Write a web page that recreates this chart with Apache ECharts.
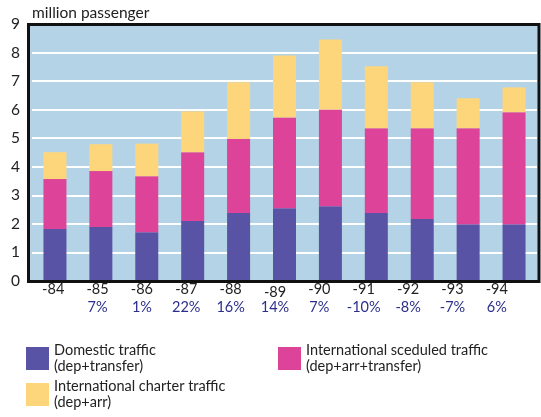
<!DOCTYPE html>
<html>
<head>
<meta charset="utf-8">
<script src="https://cdn.jsdelivr.net/npm/echarts@6/dist/echarts.min.js"></script>
<style>
  html, body { margin: 0; padding: 0; background: #fff; }
  #chart { width: 541px; height: 417px; }
</style>
</head>
<body>
<div id="chart"></div>
<script>
// 年份 / 增长率
var years = ['-84', '-85', '-86', '-87', '-88', '-89', '-90', '-91', '-92', '-93', '-94'];
var growth = ['', '7%', '1%', '22%', '16%', '14%', '7%', '-10%', '-8%', '-7%', '6%'];

// 各类客运量 (百万人次)
var domestic = [1.82, 1.89, 1.71, 2.10, 2.38, 2.55, 2.62, 2.38, 2.17, 1.99, 1.99];
var scheduled = [1.75, 1.96, 1.96, 2.41, 2.59, 3.18, 3.39, 2.97, 3.18, 3.36, 3.92];
var charter = [0.94, 0.94, 1.14, 1.43, 1.99, 2.17, 2.45, 2.17, 1.61, 1.05, 0.87];

var yTicks = ['0', '1', '2', '3', '4', '5', '6', '7', '8', '9'];

var names = {
    dom: 'Domestic traffic',
    sch: 'International sceduled traffic',
    cha: 'International charter traffic'
};
var subNames = {};
subNames[names.dom] = '(dep+transfer)';
subNames[names.sch] = '(dep+arr+transfer)';
subNames[names.cha] = '(dep+arr)';

var font = 'Lato';

var myChart = echarts.init(document.getElementById('chart'));

function legendFor(name, left, top) {
    return {
        data: [name],
        left: left,
        top: top,
        orient: 'vertical',
        icon: 'rect',
        itemWidth: 23,
        itemHeight: 23,
        itemGap: 0,
        padding: 0,
        selectedMode: false,
        formatter: function (n) { return n + '\n' + subNames[n]; },
        textStyle: {
            fontFamily: font,
            fontSize: 14.5,
            color: '#222',
            lineHeight: 16,
            padding: [11, 0, 0, 0]
        }
    };
}

var option = {
    animation: false,
    title: {
        text: 'million passenger',
        left: 27,
        top: 0,
        textStyle: { fontFamily: font, fontSize: 15.5, fontWeight: 'normal', color: '#222' }
    },
    // 背景框
    graphic: [
        {
            type: 'rect',
            z: -10,
            shape: { x: 28, y: 24, width: 511, height: 257 },
            style: { fill: '#b4d3e6' }
        },
        {
            type: 'rect',
            z: 10,
            shape: { x: 28.5, y: 24.5, width: 510.5, height: 257 },
            style: { fill: null, stroke: '#111', lineWidth: 3 }
        }
    ],
    legend: [
        legendFor(names.dom, 26, 337),
        legendFor(names.sch, 278, 337),
        legendFor(names.cha, 26, 373)
    ],
    grid: [
        { left: 32, right: 4, top: 24, bottom: 136 },
        { left: 31, width: 488, top: 24, bottom: 136 }
    ],
    xAxis: [
        {
            type: 'category',
            gridIndex: 0,
            data: years,
            axisLine: { show: false },
            axisTick: { show: false },
            axisLabel: { show: false }
        },
        {
            type: 'category',
            gridIndex: 1,
            data: years,
            axisLine: { show: false },
            axisTick: { show: false },
            axisLabel: {
                interval: 0,
                margin: 4,
                formatter: function (v, i) {
                    var tag = v === '-89' ? 'd' : 'y';
                    return '{' + tag + '|' + v + '}\n{p|' + (growth[i] || ' ') + '}';
                },
                rich: {
                    y: { fontFamily: font, fontSize: 14.5, color: '#222', lineHeight: 15, padding: [0, 0, 6, 0] },
                    d: { fontFamily: font, fontSize: 14.5, color: '#222', lineHeight: 15, padding: [3, 0, 3, 0] },
                    p: { fontFamily: font, fontSize: 14.5, color: '#2b2f8c', lineHeight: 15 }
                }
            }
        }
    ],
    yAxis: [
        {
            type: 'value',
            gridIndex: 0,
            min: 0,
            max: 9,
            interval: 1,
            axisLine: { show: false },
            axisTick: { show: false },
            axisLabel: {
                margin: 12,
                fontFamily: font,
                fontSize: 15.5,
                color: '#222',
                formatter: function (v) { return yTicks[v]; }
            },
            splitLine: { lineStyle: { color: '#fff', width: 2 } }
        },
        { type: 'value', gridIndex: 1, show: false }
    ],
    series: [
        {
            name: names.dom, type: 'bar', stack: 'all', data: domestic,
            barWidth: 23, itemStyle: { color: '#5953a5' }
        },
        {
            name: names.sch, type: 'bar', stack: 'all', data: scheduled,
            barWidth: 23, itemStyle: { color: '#dd4399' }
        },
        {
            name: names.cha, type: 'bar', stack: 'all', data: charter,
            barWidth: 23, itemStyle: { color: '#fdd67b' }
        }
    ]
};
myChart.setOption(option);
</script>
</body>
</html>
